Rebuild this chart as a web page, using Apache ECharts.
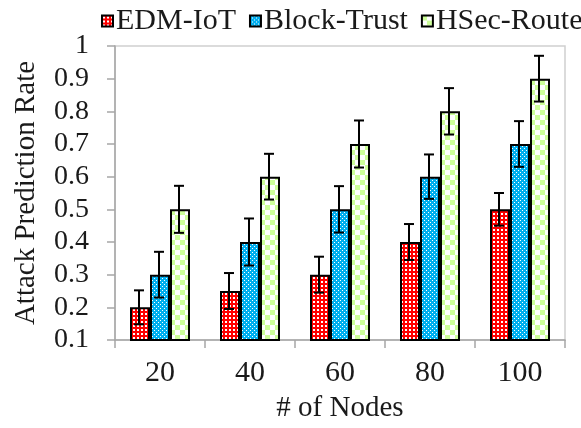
<!DOCTYPE html>
<html>
<head>
<meta charset="utf-8">
<script src="https://cdn.jsdelivr.net/npm/echarts@6/dist/echarts.min.js"></script>
<style>
html,body{margin:0;padding:0;background:#fff;}
#chart{width:581px;height:428px;}
</style>
</head>
<body>
<div id="chart"></div>
<script>
var categories = ['20', '40', '60', '80', '100'];
var seriesNames = ['EDM-IoT', 'Block-Trust', 'HSec-Route'];
var edmValues = [0.2, 0.25, 0.3, 0.4, 0.5];
var blockValues = [0.3, 0.4, 0.5, 0.6, 0.7];
var hsecValues = [0.5, 0.6, 0.7, 0.8, 0.9];
var edmErrors = [0.052, 0.055, 0.055, 0.055, 0.05];
var blockErrors = [0.07, 0.072, 0.071, 0.068, 0.07];
var hsecErrors = [0.072, 0.07, 0.072, 0.071, 0.07];
var yTicks = ['0.1','0.2','0.3','0.4','0.5','0.6','0.7','0.8','0.9','1'];

function makeTile(size, bg, fg, squares) {
  var c = document.createElement('canvas');
  c.width = size; c.height = size;
  var ctx = c.getContext('2d');
  ctx.fillStyle = bg; ctx.fillRect(0, 0, size, size);
  ctx.fillStyle = fg;
  squares.forEach(function (s) { ctx.fillRect(s[0], s[1], s[2], s[3]); });
  return c;
}
var redTile = makeTile(4, '#ff0000', '#ffffff', [[1,1,2,2]]);
var blueTile = makeTile(4, '#00aeef', '#ffffff', [[0,0,1,1],[2,2,1,1]]);
var greenTile = makeTile(10, '#ffffff', '#ccff99', [[0,0,5,5],[5,5,5,5]]);
var patterns = [
  { image: redTile, repeat: 'repeat' },
  { image: blueTile, repeat: 'repeat' },
  { image: greenTile, repeat: 'repeat' }
];
var valuesList = [edmValues, blockValues, hsecValues];
var errorsList = [edmErrors, blockErrors, hsecErrors];

var FONT = 'Liberation Serif';
var BAR_W = 20;

var series = [];
valuesList.forEach(function (vals, i) {
  series.push({
    name: seriesNames[i],
    type: 'bar',
    data: vals,
    barWidth: BAR_W,
    barGap: '0%',
    itemStyle: { color: patterns[i], borderColor: '#000', borderWidth: 2 },
    emphasis: { disabled: true },
    z: 2
  });
});
valuesList.forEach(function (vals, i) {
  var data = vals.map(function (v, k) { return [k, v, errorsList[i][k]]; });
  series.push({
    type: 'custom',
    name: seriesNames[i] + '-err',
    data: data,
    z: 5,
    silent: true,
    renderItem: function (params, api) {
      var k = api.value(0), v = api.value(1), e = api.value(2);
      var offset = (i - 1) * BAR_W;
      var top = api.coord([k, v + e]);
      var bot = api.coord([k, v - e]);
      var x = top[0] + offset - 1;
      var hw = 5;
      var st = { stroke: '#000', lineWidth: 2 };
      return {
        type: 'group',
        children: [
          { type: 'line', shape: { x1: x, y1: top[1], x2: x, y2: bot[1] }, style: st },
          { type: 'line', shape: { x1: x - hw, y1: top[1], x2: x + hw, y2: top[1] }, style: st },
          { type: 'line', shape: { x1: x - hw, y1: bot[1], x2: x + hw, y2: bot[1] }, style: st }
        ]
      };
    }
  });
});

var chart = echarts.init(document.getElementById('chart'), null, { renderer: 'canvas' });
chart.setOption({
  animation: false,
  backgroundColor: '#fff',
  textStyle: { fontFamily: FONT },
  legend: {
    data: seriesNames,
    left: 96,
    top: 1,
    width: 700,
    itemWidth: 11,
    itemHeight: 11,
    itemGap: 13,
    icon: 'rect',
    textStyle: { fontFamily: FONT, fontSize: 30, color: '#1a1a1a', padding: [0, 0, 0, -2] }
  },
  grid: {
    left: 115, right: 16, top: 46, bottom: 84,
    show: true, borderColor: '#d0d0d0', borderWidth: 1.5
  },
  xAxis: {
    type: 'category',
    data: categories,
    name: '# of Nodes',
    nameLocation: 'middle',
    nameGap: 54,
    nameTextStyle: { fontFamily: FONT, fontSize: 29, color: '#1a1a1a' },
    axisLine: { lineStyle: { color: '#a6a6a6', width: 1.5 } },
    axisTick: { show: true, length: 8, lineStyle: { color: '#a6a6a6', width: 1.5 } },
    axisLabel: { fontFamily: FONT, fontSize: 30, color: '#1a1a1a', margin: 18 },
    splitLine: { show: false }
  },
  yAxis: {
    type: 'value',
    min: 0.1, max: 1, interval: 0.1,
    name: 'Attack Prediction Rate',
    nameLocation: 'middle',
    nameGap: 74,
    nameTextStyle: { fontFamily: FONT, fontSize: 29, color: '#1a1a1a' },
    axisLine: { show: true, lineStyle: { color: '#a6a6a6', width: 1.5 } },
    axisTick: { show: true, length: 8, lineStyle: { color: '#a6a6a6', width: 1.5 } },
    axisLabel: {
      fontFamily: FONT, fontSize: 28, color: '#1a1a1a', margin: 26,
      formatter: function (v) { var i = Math.round(v * 10) - 1; return yTicks[i]; }
    },
    splitLine: { show: false }
  },
  series: series
});
</script>
</body>
</html>
